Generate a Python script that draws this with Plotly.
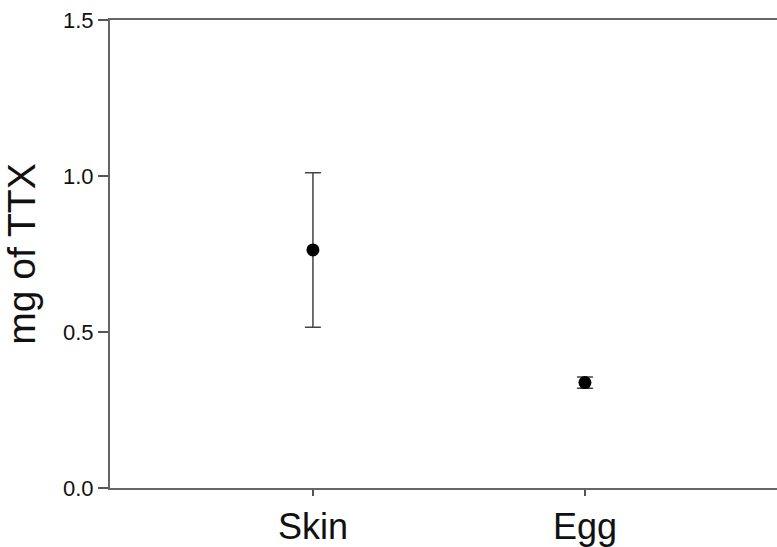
import plotly.graph_objects as go

categories = ["Skin", "Egg"]
means = [0.763, 0.338]
errors = [0.2475, 0.018]
y_ticks = [0.0, 0.5, 1.0, 1.5]
y_tick_labels = ["0.0", "0.5", "1.0", "1.5"]

x_pos = list(range(len(categories)))

fig = go.Figure()
fig.add_trace(go.Scatter(
    x=x_pos, y=means, mode="markers",
    marker=dict(color="black", size=13),
    error_y=dict(type="data", array=errors, visible=True,
                 color="#444444", thickness=1.5, width=8),
    showlegend=False,
))

fig.update_layout(
    width=777, height=547,
    margin=dict(l=110, r=0, t=20, b=52),
    paper_bgcolor="white", plot_bgcolor="white",
    font=dict(family="Liberation Sans, Arial, sans-serif", color="#111"),
)
fig.update_xaxes(
    range=[-0.746, 1.706],
    tickmode="array", tickvals=x_pos, ticktext=categories,
    tickfont=dict(size=36),
    ticks="outside", ticklen=6, tickcolor="#555", tickwidth=1.5,
    showline=True, linecolor="#666", linewidth=2, mirror=True,
    showgrid=False, zeroline=False,
)
fig.update_yaxes(
    range=[0, 1.5],
    tickmode="array", tickvals=y_ticks, ticktext=y_tick_labels,
    tickfont=dict(size=22),
    ticks="outside", ticklen=10, tickcolor="#555", tickwidth=1.5,
    showline=True, linecolor="#666", linewidth=2, mirror=False,
    showgrid=False, zeroline=False,
    title=dict(text="mg of TTX", font=dict(size=39), standoff=16),
)

fig.write_html(
    "out.html",
    config={"displayModeBar": False},
    post_script="document.body.style.margin='0';document.body.style.overflow='hidden';",
)
